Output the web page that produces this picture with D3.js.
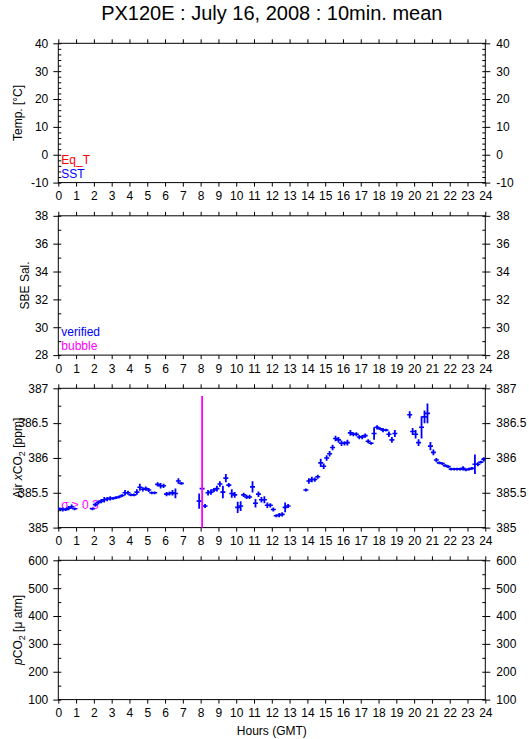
<!DOCTYPE html>
<html>
<head>
<meta charset="utf-8">
<script src="https://cdn.jsdelivr.net/npm/d3@7"></script>
<style>
  body { margin: 0; background: #fff; }
  svg { font-family: "Liberation Sans", Arial, sans-serif; }
  .axis path, .axis line { stroke: #000; }
  .axis text { font-size: 12px; fill: #000; }
</style>
</head>
<body>
<svg id="chart" width="529" height="739"></svg>
<script>
// hour ticks along every panel
const hourTicks = d3.range(0, 25);

// 10 minute slots (0 = 00:00-00:10) that have an Air xCO2 mean
const slot = [
  0, 1, 2, 3, 4, 5, 11,
  12, 13, 14, 15, 16, 17, 18, 19, 20, 21, 22, 23, 24, 25, 26, 27, 28, 29, 30, 31, 32, 33, 34, 35, 36, 37, 38, 39, 40, 41,
  47, 48, 49, 50, 51, 52, 53, 54, 55, 56, 57, 58, 59, 60, 61, 62, 63, 64, 65, 66, 67, 68, 69, 70, 71, 72, 73, 74, 75, 76, 77,
  83, 84, 85, 86, 87, 88, 89, 90, 91, 92, 93, 94, 95, 96, 97, 98, 99, 100, 101, 102, 103, 104, 105, 106, 107, 108, 109, 110, 111, 112, 113,
  118, 119, 120, 121, 122, 123, 124, 125, 126, 127, 128, 129, 130, 131, 132, 133, 134, 135, 136, 137, 138, 139, 140, 141, 142, 143
];

// Air xCO2 10 min mean [ppm]
const xco2 = [
  385.27, 385.26, 385.26, 385.28, 385.30, 385.27, 385.27,
  385.33, 385.36, 385.38, 385.40, 385.41, 385.42, 385.42, 385.43, 385.44, 385.46, 385.50, 385.50, 385.47, 385.47, 385.51, 385.58,
  385.55, 385.56, 385.54, 385.50, 385.50, 385.62, 385.60, 385.60, 385.48, 385.49, 385.50, 385.49, 385.67, 385.635,
  385.38, 385.56, 385.31, 385.50, 385.51, 385.54, 385.56, 385.625, 385.51, 385.71, 385.61, 385.49, 385.47, 385.29, 385.31,
  385.47, 385.44, 385.44, 385.585, 385.35, 385.48, 385.40, 385.40, 385.32, 385.32, 385.26, 385.17, 385.18, 385.19, 385.29, 385.31,
  385.54, 385.67, 385.69, 385.69, 385.73, 385.93, 385.88, 386.00, 386.06, 386.15, 386.28, 386.26, 386.21, 386.21, 386.22, 386.36,
  386.34, 386.34, 386.30, 386.30, 386.32, 386.24, 386.21, 386.35, 386.44, 386.42, 386.40, 386.40, 386.34, 386.26, 386.35,
  386.62, 386.38, 386.34, 386.22, 386.44, 386.59, 386.64, 386.17, 386.08, 385.97, 385.93, 385.92, 385.89, 385.875, 385.84,
  385.84, 385.84, 385.84, 385.85, 385.83, 385.84, 385.85, 385.91, 385.91, 385.94, 385.98
];

// standard deviation of each 10 min mean [ppm]
const xco2Sd = [
  0.02, 0.03, 0.02, 0.03, 0.03, 0.02, 0.02,
  0.03, 0.03, 0.03, 0.04, 0.03, 0.03, 0.02, 0.02, 0.02, 0.02, 0.04, 0.03, 0.02, 0.02, 0.04, 0.05,
  0.03, 0.03, 0.03, 0.02, 0.02, 0.03, 0.04, 0.03, 0.03, 0.03, 0.04, 0.07, 0.04, 0.02,
  0.11, 1.33, 0.03, 0.04, 0.04, 0.03, 0.04, 0.04, 0.09, 0.06, 0.03, 0.06, 0.04, 0.08, 0.07,
  0.03, 0.03, 0.03, 0.08, 0.06, 0.04, 0.04, 0.05, 0.04, 0.03, 0.03, 0.02, 0.03, 0.03, 0.07, 0.03,
  0.02, 0.04, 0.04, 0.03, 0.03, 0.06, 0.04, 0.04, 0.04, 0.04, 0.04, 0.04, 0.04, 0.03, 0.04, 0.04,
  0.03, 0.03, 0.03, 0.03, 0.03, 0.03, 0.02, 0.09, 0.03, 0.02, 0.03, 0.02, 0.04, 0.04, 0.05,
  0.05, 0.05, 0.06, 0.05, 0.16, 0.09, 0.14, 0.06, 0.04, 0.03, 0.02, 0.02, 0.02, 0.02, 0.02,
  0.02, 0.02, 0.02, 0.03, 0.02, 0.02, 0.02, 0.14, 0.03, 0.02, 0.03
];

const sdLimit = 0.3;

const svg = d3.select("#chart");
const left = 58.3, right = 485.3, panelH = 139.3;
const tops = [43.3, 215.8, 388.3, 560.3];

svg.append("text")
    .attr("x", (left + right) / 2)
    .attr("y", 20)
    .attr("text-anchor", "middle")
    .style("font-size", "20px")
    .text("PX120E : July 16, 2008 : 10min. mean");

const x = d3.scaleLinear().domain([0, 24]).range([left, right]);

// one framed panel with hour ticks and left/right value axes
function panel(i, domain, majors, minors) {
    const top = tops[i], bottom = top + panelH;
    const y = d3.scaleLinear().domain(domain).range([bottom, top]);
    const g = svg.append("g").attr("class", "panel");
    const fmt = d => String(d);

    g.append("rect")
        .attr("x", left).attr("y", top)
        .attr("width", right - left).attr("height", panelH)
        .attr("fill", "none").attr("stroke", "#000");

    g.append("g").attr("class", "axis")
        .attr("transform", `translate(0,${bottom})`)
        .call(d3.axisBottom(x).tickValues(hourTicks).tickSize(4).tickPadding(5).tickSizeOuter(0));
    g.append("g").attr("class", "axis")
        .attr("transform", `translate(0,${top})`)
        .call(d3.axisTop(x).tickValues(hourTicks).tickSize(4).tickFormat("").tickSizeOuter(0));

    g.append("g").attr("class", "axis")
        .attr("transform", `translate(${left},0)`)
        .call(d3.axisLeft(y).tickValues(majors).tickFormat(fmt).tickSize(5).tickPadding(5).tickSizeOuter(0));
    g.append("g").attr("class", "axis")
        .attr("transform", `translate(${left},0)`)
        .call(d3.axisRight(y).tickValues(minors).tickSize(3).tickFormat("").tickSizeOuter(0));
    g.append("g").attr("class", "axis")
        .attr("transform", `translate(${right},0)`)
        .call(d3.axisRight(y).tickValues(majors).tickFormat(fmt).tickSize(5).tickPadding(6).tickSizeOuter(0));
    g.append("g").attr("class", "axis")
        .attr("transform", `translate(${right},0)`)
        .call(d3.axisLeft(y).tickValues(minors).tickSize(3).tickFormat("").tickSizeOuter(0));

    g.selectAll(".axis path").remove();
    return {g, y, top, bottom};
}

function yTitle(p, cx) {
    return p.g.append("text")
        .attr("transform", `translate(${cx},${(p.top + p.bottom) / 2}) rotate(-90)`)
        .attr("text-anchor", "middle")
        .style("font-size", "12px");
}

function legend(p, lines) {
    p.g.selectAll(".legend")
        .data(lines)
        .join("text")
        .attr("class", "legend")
        .attr("x", left + 3)
        .attr("y", (d, i) => p.bottom - 19 + i * 14)
        .attr("fill", d => d.color)
        .style("font-size", "12px")
        .text(d => d.label);
}

// Temperature
const p1 = panel(0, [-10, 40], d3.range(-10, 41, 10), d3.range(-10, 41, 2));
yTitle(p1, 22).text("Temp. [°C]");
legend(p1, [{label: "Eq_T", color: "#ff0000"}, {label: "SST", color: "#0000ff"}]);

// Salinity
const p2 = panel(1, [28, 38], d3.range(28, 39, 2), d3.range(28, 39, 1));
yTitle(p2, 29).text("SBE Sal.");
legend(p2, [{label: "verified", color: "#0000ff"}, {label: "bubble", color: "#ff00ff"}]);

// Air xCO2
const p3 = panel(2, [385, 387], [385, 385.5, 386, 386.5, 387], d3.range(385, 387.01, 0.25));
const t3 = yTitle(p3, 22);
t3.append("tspan").text("Air ");
t3.append("tspan").style("font-style", "italic").text("x");
t3.append("tspan").text("CO");
t3.append("tspan").attr("dy", 3).style("font-size", "9px").text("2");
t3.append("tspan").attr("dy", -3).text(" [ppm]");
legend(p3, [{label: "σ ≥ 0.3", color: "#ff00ff"}]);

svg.append("clipPath").attr("id", "clip3")
    .append("rect")
    .attr("x", left).attr("y", p3.top)
    .attr("width", right - left).attr("height", panelH);

const points = slot.map((s, i) => ({hour: (s + 0.5) / 6, value: xco2[i], sd: xco2Sd[i]}));
const marks = p3.g.append("g").attr("clip-path", "url(#clip3)");
const half = 0.14;

marks.selectAll(".hbar")
    .data(points)
    .join("line")
    .attr("class", "hbar")
    .attr("x1", d => x(d.hour - half))
    .attr("x2", d => x(d.hour + half))
    .attr("y1", d => p3.y(d.value))
    .attr("y2", d => p3.y(d.value))
    .attr("stroke", "#0000ff")
    .attr("stroke-width", 1.6);

marks.selectAll(".vbar")
    .data(points)
    .join("line")
    .attr("class", "vbar")
    .attr("x1", d => x(d.hour))
    .attr("x2", d => x(d.hour))
    .attr("y1", d => p3.y(d.value - d.sd))
    .attr("y2", d => p3.y(d.value + d.sd))
    .attr("stroke", d => d.sd >= sdLimit ? "#ff00ff" : "#0000ff")
    .attr("stroke-width", 1.8);

// pCO2
const p4 = panel(3, [100, 600], d3.range(100, 601, 100), d3.range(100, 601, 50));
const t4 = yTitle(p4, 22);
t4.append("tspan").style("font-style", "italic").text("p");
t4.append("tspan").text("CO");
t4.append("tspan").attr("dy", 3).style("font-size", "9px").text("2");
t4.append("tspan").attr("dy", -3).text(" [μ atm]");

svg.append("text")
    .attr("x", (left + right) / 2)
    .attr("y", 735)
    .attr("text-anchor", "middle")
    .style("font-size", "12px")
    .text("Hours (GMT)");
</script>
</body>
</html>
